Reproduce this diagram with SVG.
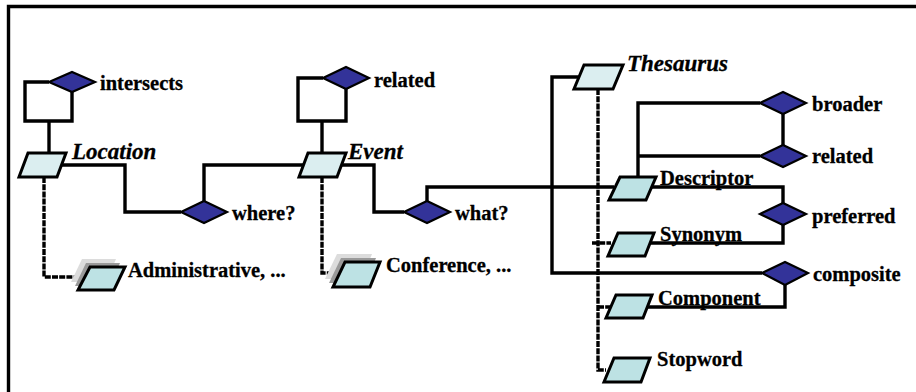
<svg xmlns="http://www.w3.org/2000/svg" width="916" height="392" viewBox="0 0 916 392">
<defs>
<style>
.ln{fill:none;stroke:#000;stroke-width:3.4;stroke-linejoin:miter}
.dash{fill:none;stroke:#000;stroke-width:3.4;stroke-dasharray:6 1.2}
.dia{fill:#333399;stroke:#000;stroke-width:2.2}
.pt{fill:#dbeef0;stroke:#000;stroke-width:3;stroke-linejoin:miter}
.ps{fill:#bde2e4;stroke:#000;stroke-width:3;stroke-linejoin:miter}
.sh1{fill:#dcdcdc}
.sh2{fill:#9a9a9a}
.t{font-family:"Liberation Serif","Times New Roman",serif;font-weight:bold;font-size:20.5px;fill:#000;stroke:#000;stroke-width:0.3}
.ti{font-family:"Liberation Serif","Times New Roman",serif;font-weight:bold;font-style:italic;font-size:23px;fill:#000;stroke:#000;stroke-width:0.3}
</style>
</defs>
<rect width="916" height="392" fill="#fff"/>
<path class="ln" d="M8.5 392 V6.5 H916"/>

<g id="connectors">
<path class="ln" d="M49 82 H25 V121 H72 V92"/>
<path class="ln" d="M49 121 V153"/>
<path class="ln" d="M323 78 H298 V121 H346 V89"/>
<path class="ln" d="M322 121 V153"/>
<path class="ln" d="M62 165 H125 V212 H181"/>
<path class="ln" d="M204 201 V165 H303"/>
<path class="ln" d="M341 165 H374 V212 H404"/>
<path class="ln" d="M427 201 V187 H614"/>
<path class="ln" d="M651 187 H783 V203"/>
<path class="ln" d="M783 225 V243 H650"/>
<path class="ln" d="M638 177 V103 H760"/>
<path class="ln" d="M783 114 V145"/>
<path class="ln" d="M638 156 H760"/>
<path class="ln" d="M578 77 H552 V273 H762"/>
<path class="ln" d="M785 285 V307 H648"/>
<path class="dash" d="M44 177 V277 H80"/>
<path class="dash" d="M322 177 V273 H336"/>
<path class="dash" d="M598 89 V370 H606"/>
<path class="dash" d="M592 243 H611"/>
<path class="dash" d="M598 307 H610"/>
</g>

<g id="intersects">
<polygon class="dia" points="49,82 72,72 95,82 72,92"/>
<text class="t" x="100" y="90">intersects</text>
</g>
<g id="location">
<polygon class="pt" points="28,153 66,153 57,177 19,177"/>
<text class="ti" x="72" y="159">Location</text>
</g>
<g id="where">
<polygon class="dia" points="181,212 204,201 227,212 204,223"/>
<text class="t" x="232" y="220">where?</text>
</g>
<g id="administrative">
<polygon class="sh1" points="82,259 116,259 106,282 71,282"/>
<polygon class="sh2" points="86,263 120,263 110,286 75,286"/>
<polygon class="ps" points="90,267 125,267 114,290 78,290"/>
<text class="t" x="128" y="277">Administrative, ...</text>
</g>
<g id="related-event">
<polygon class="dia" points="323,78 346,67 369,78 346,89"/>
<text class="t" x="374" y="87">related</text>
</g>
<g id="event">
<polygon class="pt" points="308,153 346,153 337,177 299,177"/>
<text class="ti" x="348" y="159">Event</text>
</g>
<g id="what">
<polygon class="dia" points="404,212 427,201 450,212 427,223"/>
<text class="t" x="455" y="220">what?</text>
</g>
<g id="conference">
<polygon class="sh1" points="337,254 372,254 362,279 325,279"/>
<polygon class="sh2" points="341,258 376,258 366,283 329,283"/>
<polygon class="ps" points="345,262 380,262 370,287 333,287"/>
<text class="t" x="386" y="272">Conference, ...</text>
</g>
<g id="thesaurus">
<polygon class="pt" points="584,65 623,65 613,89 574,89"/>
<text class="ti" x="627" y="71">Thesaurus</text>
</g>
<g id="broader">
<polygon class="dia" points="760,103 783,92 806,103 783,114"/>
<text class="t" x="812" y="111">broader</text>
</g>
<g id="related-descriptor">
<polygon class="dia" points="760,156 783,145 806,156 783,167"/>
<text class="t" x="812" y="163">related</text>
</g>
<g id="descriptor">
<polygon class="ps" points="620,177 656,177 646,200 609,200"/>
<text class="t" x="660" y="185">Descriptor</text>
</g>
<g id="preferred">
<polygon class="dia" points="760,214 783,203 806,214 783,225"/>
<text class="t" x="812" y="223">preferred</text>
</g>
<g id="synonym">
<polygon class="ps" points="618,233 654,233 645,256 608,256"/>
<text class="t" x="660" y="241">Synonym</text>
</g>
<g id="composite">
<polygon class="dia" points="762,273 785,262 808,273 785,285"/>
<text class="t" x="813" y="281">composite</text>
</g>
<g id="component">
<polygon class="ps" points="616,295 652,295 643,318 606,318"/>
<text class="t" x="658" y="305">Component</text>
</g>
<g id="stopword">
<polygon class="ps" points="614,358 650,358 641,382 604,382"/>
<text class="t" x="657" y="366">Stopword</text>
</g>
</svg>
